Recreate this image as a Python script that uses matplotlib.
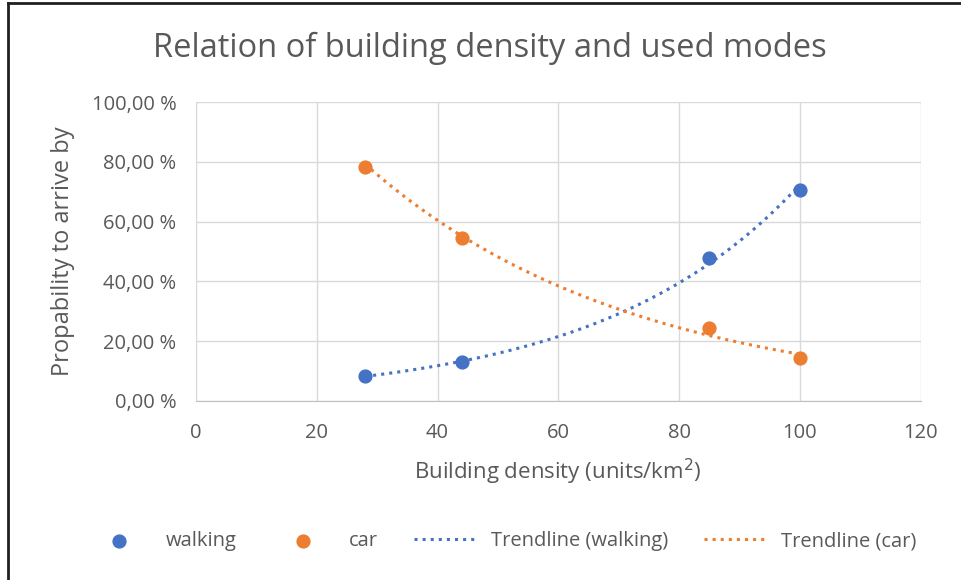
import matplotlib.pyplot as plt
import numpy as np
from matplotlib.lines import Line2D
from matplotlib.ticker import FuncFormatter, MultipleLocator

plt.rcParams['font.family'] = ['Open Sans', 'DejaVu Sans']

density = [28, 44, 85, 100]
walking = [8.2, 13.0, 47.8, 70.4]
car = [78.4, 54.4, 24.2, 14.4]

blue = '#4472C4'
orange = '#ED7D31'
grey = '#595959'


def exp_trend(x, y):
    # Excel style exponential trendline: fit log(y) linearly
    b, a = np.polyfit(x, np.log(y), 1)
    xs = np.linspace(min(x), max(x), 200)
    return xs, np.exp(a) * np.exp(b * xs)


fig = plt.figure(figsize=(9.61, 5.80), dpi=100)
ax = fig.add_axes([0.204, 0.309, 0.754, 0.515])

ax.scatter(density, walking, s=85, color=blue, zorder=3, label='walking')
ax.scatter(density, car, s=85, color=orange, zorder=3, label='car')
xs, ys = exp_trend(density, walking)
ax.plot(xs, ys, ':', color=blue, lw=2.2, zorder=2, label='Trendline (walking)')
xs, ys = exp_trend(density, car)
ax.plot(xs, ys, ':', color=orange, lw=2.2, zorder=2, label='Trendline (car)')

ax.set_xlim(0, 120)
ax.set_ylim(0, 100)
ax.xaxis.set_major_locator(MultipleLocator(20))
ax.yaxis.set_major_locator(MultipleLocator(20))
ax.yaxis.set_major_formatter(FuncFormatter(lambda v, p: ('%.2f %%' % v).replace('.', ',')))
ax.grid(True, color='#D9D9D9', lw=1)
ax.set_axisbelow(True)
for s in ['top', 'right', 'left']:
    ax.spines[s].set_visible(False)
ax.spines['bottom'].set_color('#BFBFBF')
ax.tick_params(length=0, labelsize=14.5, colors=grey)
ax.tick_params(axis='x', pad=16)
ax.tick_params(axis='y', pad=14)

ax.set_xlabel('Building density (units/km$^2$)', fontsize=16, color=grey, labelpad=10)
ax.set_ylabel('Propability to arrive by', fontsize=17, color=grey, labelpad=12)
fig.text(0.51, 1 - 48 / 580, 'Relation of building density and used modes',
         ha='center', va='center', fontsize=23.5, color=grey)

fig.legend(loc='center', bbox_to_anchor=(0.523, 1 - 541 / 580), ncol=4, frameon=False,
           fontsize=14.5, labelcolor=grey, columnspacing=1.8, handlelength=3,
           handletextpad=0.8, scatterpoints=1)

# screenshot frame, only left and top visible
fig.add_artist(Line2D([8 / 961, 8 / 961], [0, 1 - 3 / 580], color='#202020', lw=2))
fig.add_artist(Line2D([8 / 961, 1], [1 - 3 / 580, 1 - 3 / 580], color='#202020', lw=2))

fig.savefig('out.png', dpi=100)
